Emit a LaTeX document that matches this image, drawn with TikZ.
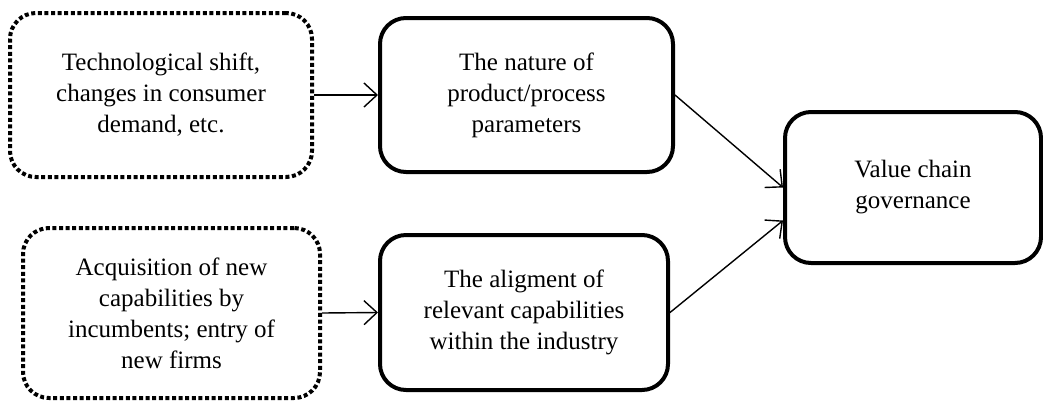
\documentclass[tikz,border=0pt]{standalone}
\usepackage{fontspec}
\setmainfont{Liberation Serif}
\usetikzlibrary{arrows.meta}
\begin{document}
\begin{tikzpicture}[x=1pt,y=-1pt,
  box/.style={draw, line width=4pt, rounded corners=26pt, align=center,
    font=\fontsize{25}{31}\selectfont, inner sep=0pt},
  dotbox/.style={box, dash pattern=on 4pt off 2.6pt},
  conn/.style={line width=1.4pt, -{Straight Barb[length=13pt,width=24pt]}}]
\useasboundingbox (0,0) rectangle (1043,400);
\node[dotbox, minimum width=302pt, minimum height=164pt] (b1) at (161,95)
  {Technological shift,\\changes in consumer\\demand, etc.};
\node[box, minimum width=293pt, minimum height=154pt] (b2) at (526.5,95)
  {The nature of\\product/process\\parameters};
\node[box, minimum width=256pt, minimum height=151pt] (b3) at (913,187.5)
  {Value chain\\governance};
\node[dotbox, minimum width=297pt, minimum height=170pt] (b4) at (171.5,313)
  {Acquisition of new\\capabilities by\\incumbents; entry of\\new firms};
\node[box, minimum width=288pt, minimum height=155pt] (b5) at (524,312.5)
  {The aligment of\\relevant capabilities\\within the industry};
\draw[conn] (b1.east) -- (b2.west);
\draw[conn] (b4.east) -- (b5.west);
\draw[conn] (b2.east) -- (b3.west);
\draw[conn] (b5.east) -- ([yshift=-33pt]b3.west);
\end{tikzpicture}
\end{document}
